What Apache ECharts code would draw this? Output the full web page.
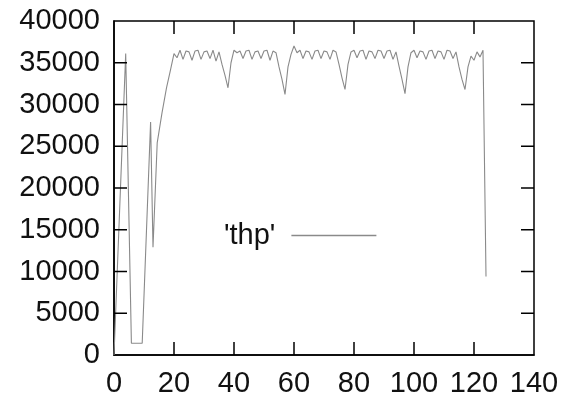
<!DOCTYPE html>
<html>
<head>
<meta charset="utf-8">
<script src="https://cdn.jsdelivr.net/npm/echarts@6/dist/echarts.min.js"></script>
<style>
  html,body{margin:0;padding:0;background:#fff;}
  #chart{width:562px;height:401px;}
</style>
</head>
<body>
<div id="chart"></div>
<script>
// x positions (time) and throughput values
var xs = [0, 3.9, 5.8, 9.4, 12.2, 13, 14.4, 16, 17.5, 18.8, 20,
  21, 22, 23, 24, 25, 26, 27, 28, 29, 30, 31, 32, 33, 34, 35, 36, 37, 38, 39, 40,
  41, 42, 43, 44, 45, 46, 47, 48, 49, 50, 51, 52, 53, 54, 55, 56, 57, 58, 59, 60,
  61, 62, 63, 64, 65, 66, 67, 68, 69, 70, 71, 72, 73, 74, 75, 76, 77, 78, 79, 80,
  81, 82, 83, 84, 85, 86, 87, 88, 89, 90, 91, 92, 93, 94, 95, 96, 97, 98, 99, 100,
  101, 102, 103, 104, 105, 106, 107, 108, 109, 110, 111, 112, 113, 114, 115, 116, 117, 118, 119, 120,
  121, 122, 123, 123.4, 124]
var thp = [0, 36100, 1400, 1400, 27900, 12900, 25400, 29000, 32000, 34100, 36100,
  35600, 36500, 35400, 36400, 36300, 35300, 36400, 36500, 35400, 36300, 36400, 35500, 36500, 35200, 36300, 34800, 33500, 32000, 35000, 36500,
  36200, 36400, 35500, 36400, 36500, 35400, 36300, 36400, 35500, 36400, 36500, 35300, 36400, 36200, 34500, 33000, 31200, 34500, 36000, 37000,
  36200, 36500, 35500, 36400, 36300, 35400, 36400, 36500, 35500, 36400, 36300, 35400, 36500, 36300, 34800, 33200, 31800, 34800, 36300, 36500,
  35600, 36400, 36500, 35400, 36400, 36300, 35500, 36500, 36400, 35500, 36400, 36500, 35400, 36300, 34600, 33000, 31300, 34500, 36200, 36500,
  35600, 36400, 36300, 35400, 36400, 36500, 35500, 36400, 36300, 35400, 36500, 36400, 35500, 36300, 34500, 33000, 31800, 34500, 35800, 35300,
  36300, 35700, 36500, 36600, 9400]
var xTicks = [0, 20, 40, 60, 80, 100, 120, 140]
var yTicks = [0, 5000, 10000, 15000, 20000, 25000, 30000, 35000, 40000]

var pts = []
for (var i = 0; i < xs.length; i++) pts.push([xs[i], thp[i]])

var font = 'Liberation Sans'
var seriesName = "'thp'"
var W = 562, H = 401
var gLeft = 114, gRight = 28, gTop = 21, gBottom = 46
var tickLen = 13
var yMin = yTicks[0], yMax = yTicks[yTicks.length - 1]
var xMin = xTicks[0], xMax = xTicks[xTicks.length - 1]
// tick length turned into axis units
var tdx = tickLen * (xMax - xMin) / (W - gLeft - gRight)
var tdy = tickLen * (yMax - yMin) / (H - gTop - gBottom)

// tick series share the legend name so the legend filter keeps them
function tickSeries(p1, p2) {
  return {
    name: seriesName,
    type: 'line', data: [p1, p2], showSymbol: false, silent: true, z: 3,
    lineStyle: { color: '#000', width: 1.5 }, itemStyle: { color: '#000' }
  }
}

var series = [{
  name: seriesName,
  type: 'line',
  data: pts,
  showSymbol: false,
  lineStyle: { color: '#8a8a8a', width: 1.1 },
  itemStyle: { color: '#8a8a8a' }
}]
// inward tick marks on all four sides (gnuplot style)
xTicks.slice(1, -1).forEach(function (v) {
  series.push(tickSeries([v, yMin], [v, yMin + tdy]))
  series.push(tickSeries([v, yMax], [v, yMax - tdy]))
})
yTicks.slice(1, -1).forEach(function (v) {
  series.push(tickSeries([xMin, v], [xMin + tdx, v]))
  series.push(tickSeries([xMax, v], [xMax - tdx, v]))
})

var myChart = echarts.init(document.getElementById('chart'))
myChart.setOption({
  animation: false,
  grid: { left: gLeft, right: gRight, top: gTop, bottom: gBottom, show: true, borderColor: '#000', borderWidth: 1.5, backgroundColor: 'transparent' },
  legend: {
    left: 219, top: 216,
    align: 'right',
    icon: 'rect',
    itemWidth: 85, itemHeight: 1.5,
    textStyle: { fontFamily: font, fontSize: 29, color: '#111', padding: [0, 11, 0, 0] },
    data: [{ name: seriesName, itemStyle: { color: '#8a8a8a' } }]
  },
  xAxis: {
    type: 'value', min: xMin, max: xMax, interval: 20,
    axisLine: { show: true, lineStyle: { color: '#000', width: 1.5 } },
    axisTick: { show: false }, splitLine: { show: false },
    axisLabel: { margin: 14, fontFamily: font, fontSize: 29, color: '#111',
      formatter: function (v) { return xTicks.indexOf(v) >= 0 ? v : '' } }
  },
  yAxis: {
    type: 'value', min: yMin, max: yMax, interval: 5000,
    axisLine: { show: true, lineStyle: { color: '#000', width: 1.5 } },
    axisTick: { show: false }, splitLine: { show: false },
    axisLabel: { margin: 14, fontFamily: font, fontSize: 29, color: '#111',
      formatter: function (v) { return yTicks.indexOf(v) >= 0 ? v : '' } }
  },
  series: series
})
</script>
</body>
</html>
